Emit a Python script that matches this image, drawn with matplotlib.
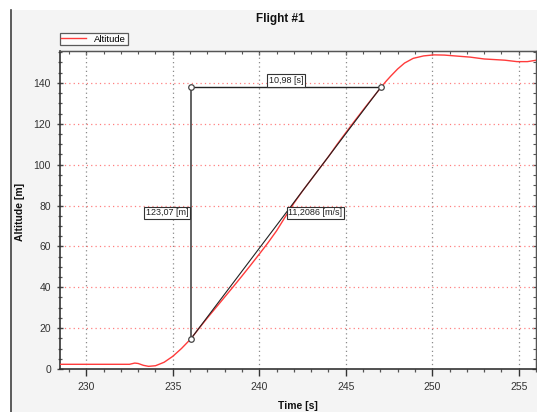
import matplotlib
matplotlib.use("Agg")
import matplotlib.pyplot as plt
from matplotlib.patches import Rectangle
from matplotlib.lines import Line2D
from matplotlib.ticker import MultipleLocator, NullFormatter

# ---- data ----
time_s = [228.5, 229.0, 230.0, 231.0, 232.0, 232.5, 232.8, 233.0, 233.3, 233.6,
          234.0, 234.5, 235.0, 235.5, 236.05, 236.5, 237.0, 237.5, 238.0, 238.5,
          239.0, 239.5, 240.0, 240.5, 241.0, 241.5, 242.0, 242.5, 243.0, 243.5,
          244.0, 244.5, 245.0, 245.5, 246.0, 246.5, 247.05, 247.3, 247.6, 248.0,
          248.4, 248.9, 249.5, 250.1, 250.7, 251.3, 252.2, 253.0, 253.6, 254.2,
          254.9, 255.5, 256.1]
altitude_m = [2.3, 2.3, 2.3, 2.3, 2.3, 2.3, 2.9, 2.7, 1.8, 1.3,
              1.6, 3.3, 6.2, 10.0, 14.8, 19.7, 25.0, 30.1, 35.2, 40.3,
              45.5, 50.8, 56.2, 61.7, 67.6, 74.4, 81.1, 87.1, 92.7, 98.3,
              103.9, 109.9, 115.6, 121.2, 126.7, 132.1, 137.9, 140.5, 143.3, 146.8,
              149.7, 152.0, 153.2, 153.7, 153.6, 153.2, 152.6, 151.7, 151.4, 151.1,
              150.4, 150.4, 151.2]

measure_t = [236.05, 247.03]
measure_v = [14.80, 137.87]

x_ticks = [230, 235, 240, 245, 250, 255]
y_ticks = [0, 20, 40, 60, 80, 100, 120, 140]

title = "Flight #1"
xlabel = "Time [s]"
ylabel = "Altitude [m]"
series_name = "Altitude"

plt.rcParams['font.family'] = ['Liberation Sans', 'DejaVu Sans']

W, H = 537, 412
fig = plt.figure(figsize=(W / 100, H / 100), dpi=100)
fig.patch.set_facecolor('white')

# gray panel background with dark left edge
fig.add_artist(Rectangle((11 / W, 0), 1 - 11 / W, 1 - 10 / H, transform=fig.transFigure,
                         facecolor='#f4f4f4', edgecolor='none', zorder=-10))
fig.add_artist(Line2D([11 / W, 11 / W], [0, 1 - 10 / H], transform=fig.transFigure,
                      color='#404040', lw=1.2, zorder=-9))

left, right, bottom, top = 60 / W, 536 / W, 1 - 369 / H, 1 - 51 / H
ax = fig.add_axes([left, bottom, right - left, top - bottom])
ax.set_facecolor('white')

ax.plot(time_s, altitude_m, color='#ff3b3b', lw=1.0, label=series_name, zorder=3)

# measurement annotation
t0, t1 = measure_t
v0, v1 = measure_v
dt = t1 - t0
dv = v1 - v0
slope = dv / dt
ax.plot([t0, t0], [v0, v1], color='#555555', lw=1.3, zorder=4)
ax.plot([t0, t1], [v1, v1], color='#222222', lw=1.0, zorder=4)
ax.plot([t0, t1], [v0, v1], color='#222222', lw=0.8, zorder=4)
ax.plot([t0, t0, t1], [v0, v1, v1], linestyle='none', marker='o', ms=4,
        mfc='white', mec='#444444', mew=0.9, zorder=5)

box = dict(boxstyle='square,pad=0.2', facecolor='white', edgecolor='#333333', lw=0.8)
fs_ann = 6.5
ax.annotate(f"{dt:.2f} [s]".replace('.', ','), xy=((t0 + t1) / 2, v1),
            xytext=(0, 1.6), textcoords='offset points', ha='center', va='bottom',
            fontsize=fs_ann, bbox=box, color='#222222', zorder=6)
ax.annotate(f"{dv:.2f} [m]".replace('.', ','), xy=(t0, (v0 + v1) / 2),
            xytext=(-1.8, 0), textcoords='offset points', ha='right', va='center',
            fontsize=fs_ann, bbox=box, color='#222222', zorder=6)
ax.annotate(f"{slope:.4f} [m/s]".replace('.', ','), xy=((t0 + t1) / 2, (v0 + v1) / 2),
            xytext=(1.8, 0), textcoords='offset points', ha='left', va='center',
            fontsize=fs_ann, bbox=box, color='#222222', zorder=6)

ax.set_xlim(228.48, 256.0)
ax.set_ylim(0, 155.6)
ax.set_xticks(x_ticks)
ax.set_yticks(y_ticks)
ax.xaxis.set_minor_locator(MultipleLocator(1))
ax.yaxis.set_minor_locator(MultipleLocator(5))

# grids
for xt in x_ticks:
    ax.axvline(xt, color='#8a8a8a', lw=0.9, linestyle=(0, (1, 2.5)), zorder=1)
for yt in y_ticks[1:]:
    ax.axhline(yt, color='#ff8080', lw=0.9, linestyle=(0, (1, 2.5)), zorder=1)

ax.tick_params(axis='x', which='major', direction='out', length=5, width=1,
               color='#333333', labelsize=7.5, labelcolor='#333333', pad=4)
ax.tick_params(axis='x', which='minor', direction='out', length=2.5, width=0.9,
               color='#555555')
ax.tick_params(axis='y', which='major', direction='inout', length=5, width=1,
               color='#444444', labelsize=7.5, labelcolor='#333333', pad=4)
ax.tick_params(axis='y', which='minor', direction='inout', length=3, width=0.9,
               color='#555555')

for s in ['left', 'bottom']:
    ax.spines[s].set_color('#333333')
    ax.spines[s].set_linewidth(1.2)
for s in ['top', 'right']:
    ax.spines[s].set_color('#555555')
    ax.spines[s].set_linewidth(1.0)

# top and right inward ticks
secx = ax.secondary_xaxis('top')
secx.set_xticks(x_ticks)
secx.xaxis.set_minor_locator(MultipleLocator(1))
secx.xaxis.set_major_formatter(NullFormatter())
secx.tick_params(which='major', direction='in', length=3, width=0.9, color='#444444')
secx.tick_params(which='minor', direction='in', length=2, width=0.8, color='#555555')
secx.spines['top'].set_color('#555555')

secy = ax.secondary_yaxis('right')
secy.set_yticks(y_ticks)
secy.yaxis.set_minor_locator(MultipleLocator(5))
secy.yaxis.set_major_formatter(NullFormatter())
secy.tick_params(which='major', direction='in', length=3, width=0.9, color='#444444')
secy.tick_params(which='minor', direction='in', length=2, width=0.8, color='#555555')
secy.spines['right'].set_color('#555555')

# texts
fig.text(280 / W, 1 - 19 / H, title, ha='center', va='center', fontsize=8.5,
         fontweight='bold', color='#111111')
fig.text(298 / W, 1 - 406 / H, xlabel, ha='center', va='center', fontsize=7.5,
         fontweight='bold', color='#111111')
fig.text(20 / W, 1 - 212 / H, ylabel, ha='center', va='center', rotation=90,
         fontsize=7.5, fontweight='bold', color='#111111')

leg = ax.legend(loc='lower left', bbox_to_anchor=(60 / W, 1 - 45 / H),
                bbox_transform=fig.transFigure, fontsize=6.8, frameon=True,
                fancybox=False, handlelength=2.6, handletextpad=0.9,
                borderpad=0.15, borderaxespad=0)
leg.get_frame().set_edgecolor('#333333')
leg.get_frame().set_linewidth(0.9)
leg.get_frame().set_facecolor('white')

fig.savefig('out.png', dpi=100, facecolor=fig.get_facecolor())
